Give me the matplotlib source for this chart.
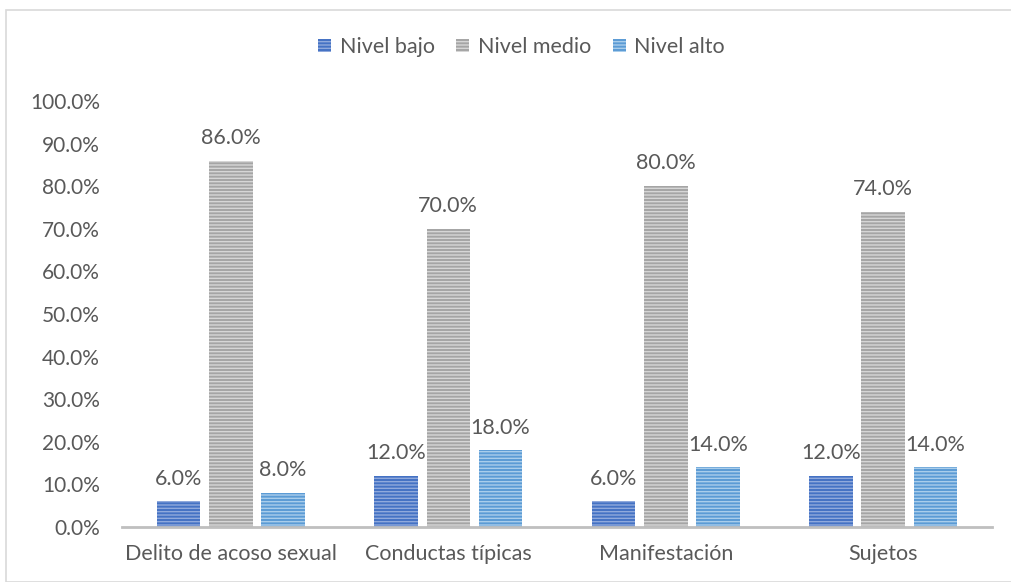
import matplotlib.pyplot as plt
import numpy as np
from matplotlib.patches import Rectangle

categories = ['Delito de acoso sexual', 'Conductas típicas', 'Manifestación', 'Sujetos']
series = ['Nivel bajo', 'Nivel medio', 'Nivel alto']
bajo = [6.0, 12.0, 6.0, 12.0]
medio = [86.0, 70.0, 80.0, 74.0]
alto = [8.0, 18.0, 14.0, 14.0]
yticks = [0, 10, 20, 30, 40, 50, 60, 70, 80, 90, 100]

colors = ['#4472C4', '#A5A5A5', '#5B9BD5']
hatch_colors = ['#8FA9DC', '#D6D6D6', '#A9CDEB']

plt.rcParams['font.family'] = ['Lato', 'DejaVu Sans']
plt.rcParams['hatch.linewidth'] = 1.0

fig = plt.figure(figsize=(10.11, 5.82), dpi=100)
fig.patches.append(Rectangle((6 / 1011, 0.0), 1.0, 1 - 10 / 582, transform=fig.transFigure,
                             fill=False, edgecolor='#D9D9D9', linewidth=1.2))
ax = fig.add_axes([122 / 1011, 1 - 527 / 582, (992 - 122) / 1011, (527 - 101) / 582])

x = np.arange(len(categories))
width = 0.2
offsets = [-0.24, 0, 0.24]
text_color = '#595959'

for vals, off, c, hc, name in zip([bajo, medio, alto], offsets, colors, hatch_colors, series):
    bars = ax.bar(x + off, vals, width, color=c, edgecolor=hc, hatch='-----', linewidth=0, label=name)
    for b, v in zip(bars, vals):
        ax.text(b.get_x() + b.get_width() / 2, v + 3.0, f'{v:.1f}%', ha='center', va='bottom',
                fontsize=15.5, color=text_color)

ax.set_xlim(-0.5, 3.5)
ax.set_ylim(0, 100)
ax.set_yticks(yticks)
ax.set_yticklabels([f'{t:.1f}%' for t in yticks])
ax.set_xticks(x)
ax.set_xticklabels(categories)
ax.tick_params(axis='x', length=0, labelsize=15.5, colors=text_color, pad=12)
ax.tick_params(axis='y', length=0, labelsize=15, colors=text_color, pad=16)
for s in ['top', 'right', 'left']:
    ax.spines[s].set_visible(False)
ax.spines['bottom'].set_color('#BFBFBF')
ax.spines['bottom'].set_linewidth(2)

leg = fig.legend(loc='center', bbox_to_anchor=(0.516, 1 - 47 / 582), ncol=3, frameon=False,
                 fontsize=15.5, handlelength=0.6, handleheight=0.6, columnspacing=1.0, handletextpad=0.4)
for t in leg.get_texts():
    t.set_color(text_color)

fig.savefig('out.png', dpi=100)
